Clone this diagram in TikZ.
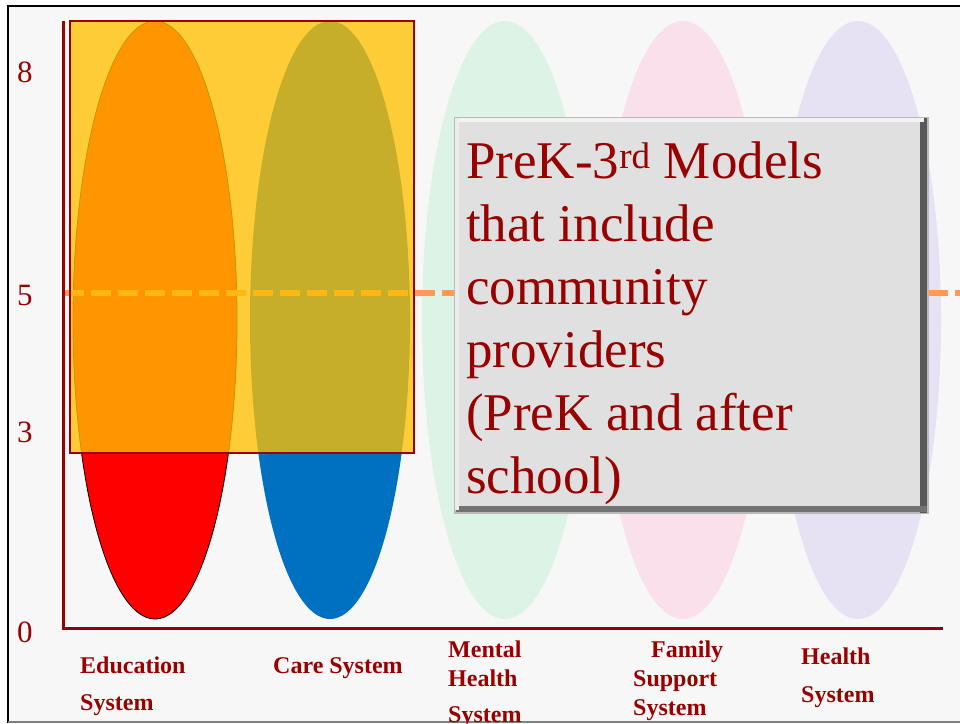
\documentclass[tikz,border=0pt]{standalone}
\usepackage{fontspec}
\setmainfont{Liberation Serif}
\definecolor{dred}{HTML}{990000}
\definecolor{bgc}{HTML}{F7F7F7}
\definecolor{goldc}{HTML}{FFC000}
\definecolor{bluec}{HTML}{0070C0}
\definecolor{dashc}{HTML}{FF9955}
\definecolor{mintc}{HTML}{DDF3E6}
\definecolor{pinkc}{HTML}{F9E0EA}
\definecolor{lavc}{HTML}{E6E1F3}
\definecolor{boxc}{HTML}{E0E0E0}
\begin{document}
\begin{tikzpicture}[x=1pt,y=-1pt,
  axisnum/.style={anchor=base west,inner sep=0,text=dred,font=\fontsize{31}{31}\selectfont},
  boxline/.style={anchor=base west,inner sep=0,text=dred,font=\fontsize{53}{53}\selectfont},
  syslab/.style={anchor=base west,inner sep=0,text=dred,font=\bfseries\fontsize{24}{24}\selectfont},
  sysell/.style={x radius=83,y radius=299}]
\useasboundingbox (0,0) rectangle (960,723);
\fill[white] (0,0) rectangle (960,723);
\fill[bgc] (8,6) rectangle (960,723);
\draw[black,line width=2.5] (8,723) -- (8,6) -- (960,6);
\draw[gray,line width=1.5] (8,722) -- (960,722);
% faded system ellipses
\fill[mintc] (505,320) ellipse [sysell];
\fill[pinkc] (683,320) ellipse [sysell];
\fill[lavc] (858,320) ellipse [sysell];
% education and care ellipses
\filldraw[fill=red,draw=black,line width=0.8] (155,320) ellipse [x radius=82,y radius=299];
\fill[bluec] (330,320) ellipse [x radius=80,y radius=299];
% dashed level line
\draw[dashc,line width=6,dash pattern=on 20pt off 7pt] (64,293) -- (960,293);
% PreK-3rd rectangle
\filldraw[fill=goldc,fill opacity=0.78,draw=dred,line width=2] (70,21) rectangle (414,453);
% axes
\draw[dred,line width=3] (63,21) -- (63,630);
\draw[dred,line width=3.5] (62,628.5) -- (943,628.5);
% axis numbers
\node[axisnum] (n8) at (17,82) {8};
\node[axisnum] (n5) at (17,305) {5};
\node[axisnum] (n3) at (17,442) {3};
\node[axisnum] (n0) at (17,642) {0};
% text box with bevel
\fill[gray!55] (454,117) rectangle (929,514);
\fill[black!65] (920,118) rectangle (927,513);
\fill[black!55] (456,506) rectangle (927,512);
\fill[white!95!black] (455,118) rectangle (924,122);
\fill[white!93!black] (455,118) rectangle (459,510);
\fill[boxc] (459,122) rectangle (920,506);
\node[boxline] (l1) at (466,178) {PreK-3\textsuperscript{rd} Models};
\node[boxline] (l2) at (466,241) {that include};
\node[boxline] (l3) at (466,304) {community};
\node[boxline] (l4) at (466,367) {providers};
\node[boxline] (l5) at (466,430) {(PreK and after};
\node[boxline] (l6) at (466,493) {school)};
% system labels
\node[syslab] (ed1) at (80,673) {Education};
\node[syslab] (ed2) at (80,710) {System};
\node[syslab] (care) at (273,673) {Care System};
\node[syslab] (mh1) at (448,657) {Mental};
\node[syslab] (mh2) at (448,686) {Health};
\node[syslab] (mh3) at (448,722) {System};
\node[syslab] (fs1) at (651,657) {Family};
\node[syslab] (fs2) at (633,686) {Support};
\node[syslab] (fs3) at (633,715) {System};
\node[syslab] (hs1) at (801,664) {Health};
\node[syslab] (hs2) at (801,702) {System};
\end{tikzpicture}
\end{document}
